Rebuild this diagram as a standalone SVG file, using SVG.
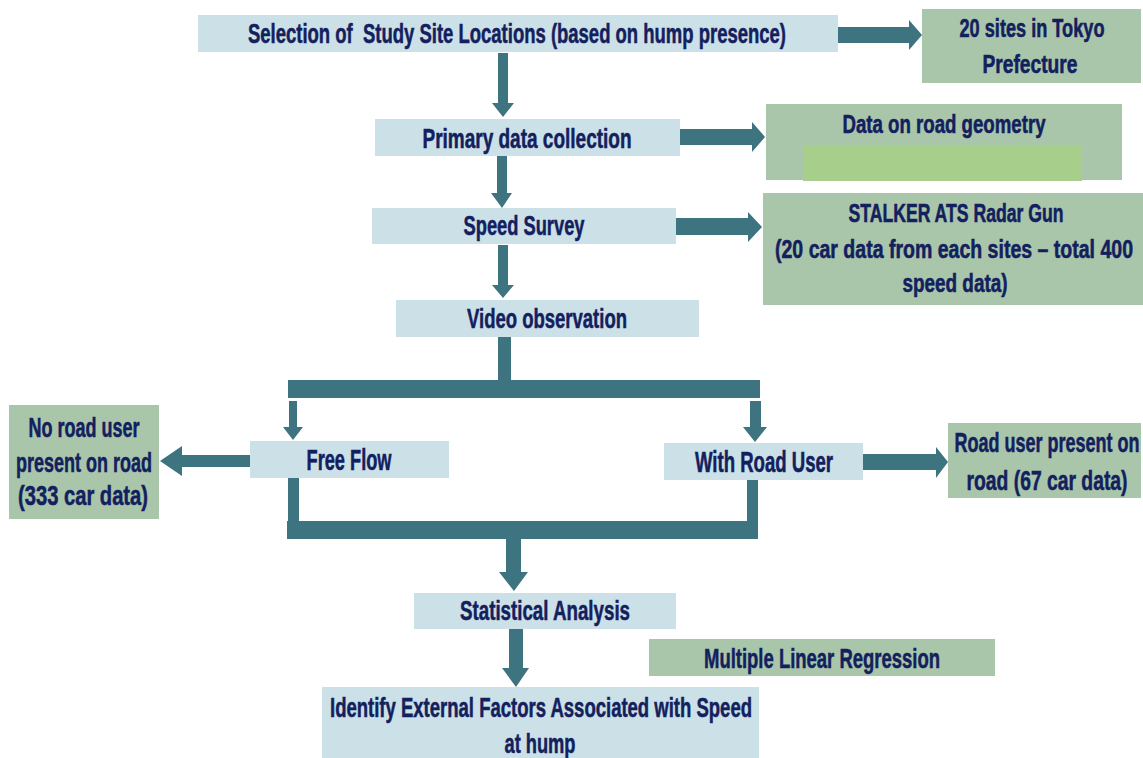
<svg xmlns="http://www.w3.org/2000/svg" width="1143" height="758" viewBox="0 0 1143 758">
<style>
.b{fill:#cce0e7}
.g{fill:#a9c6aa}
.gi{fill:#a7cf8b}
.t{font-family:"Liberation Sans Narrow","Liberation Sans",Arial,sans-serif;font-weight:bold;font-size:18px;fill:#13205e;stroke:#13205e;stroke-width:0.35;text-anchor:middle}
.s{font-size:16px}
.c{fill:#3e7380}
</style>
<rect width="1143" height="758" fill="#ffffff"/>
<g id="connectors">
<polygon class="c" points="498,53 508,53 508,103 514,103 503,117 492,103 498,103"/>
<polygon class="c" points="497,156 507,156 507,193 512,193 502,208 491,193 497,193"/>
<polygon class="c" points="498,245 508,245 508,285 514,285 503,298 492,285 498,285"/>
<rect class="c" x="498" y="337" width="13" height="45"/>
<rect class="c" x="288" y="380" width="472" height="18"/>
<polygon class="c" points="289,401 297,401 297,427 303,427 293,440 283,427 289,427"/>
<polygon class="c" points="750,401 761,401 761,427 767,427 755,442 743,427 750,427"/>
<rect class="c" x="288" y="478" width="11" height="45"/>
<rect class="c" x="747" y="480" width="11" height="43"/>
<rect class="c" x="287" y="521" width="471" height="18"/>
<polygon class="c" points="506,539 521,539 521,572 528,572 514,591 499,572 506,572"/>
<polygon class="c" points="509,629 523,629 523,668 529,668 516,687 502,668 509,668"/>
<polygon class="c" points="838,27 909,27 909,20 922,35 909,50 909,43 838,43"/>
<polygon class="c" points="680,129 752,129 752,122 765,137 752,152 752,145 680,145"/>
<polygon class="c" points="676,218 748,218 748,212 762,227 748,242 748,235 676,235"/>
<polygon class="c" points="863,454 936,454 936,447 948,462 936,478 936,470 863,470"/>
<polygon class="c" points="250,455 182,455 182,446 160,461 182,476 182,467 250,467"/>
</g>
<g id="n-selection">
<rect class="b" x="198" y="15" width="640" height="37"/>
<text class="t" transform="translate(517,43) scale(1,1.55)" textLength="538" lengthAdjust="spacingAndGlyphs" xml:space="preserve">Selection of  Study Site Locations (based on hump presence)</text>
</g>
<g id="n-sites">
<rect class="g" x="922" y="9" width="219" height="74"/>
<text class="t s" transform="translate(1032,37) scale(1,1.6)" textLength="145" lengthAdjust="spacingAndGlyphs">20 sites in Tokyo</text>
<text class="t s" transform="translate(1030,73) scale(1,1.6)" textLength="95" lengthAdjust="spacingAndGlyphs">Prefecture</text>
</g>
<g id="n-primary">
<rect class="b" x="375" y="119" width="305" height="37"/>
<text class="t" transform="translate(527,148) scale(1,1.55)" textLength="209" lengthAdjust="spacingAndGlyphs">Primary data collection</text>
</g>
<g id="n-geometry">
<rect class="g" x="766" y="104" width="356" height="76"/>
<rect class="gi" x="803" y="146" width="279" height="35"/>
<text class="t s" transform="translate(944,133) scale(1,1.6)" textLength="203" lengthAdjust="spacingAndGlyphs">Data on road geometry</text>
</g>
<g id="n-speed">
<rect class="b" x="372" y="208" width="304" height="36"/>
<text class="t" transform="translate(524,235) scale(1,1.55)" textLength="121" lengthAdjust="spacingAndGlyphs">Speed Survey</text>
</g>
<g id="n-radar">
<rect class="g" x="763" y="193" width="380" height="112"/>
<text class="t s" transform="translate(956,222) scale(1,1.6)" textLength="215" lengthAdjust="spacingAndGlyphs">STALKER ATS Radar Gun</text>
<text class="t s" transform="translate(954,258) scale(1,1.6)" textLength="358" lengthAdjust="spacingAndGlyphs">(20 car data from each sites – total 400</text>
<text class="t s" transform="translate(955,292) scale(1,1.6)" textLength="105" lengthAdjust="spacingAndGlyphs">speed data)</text>
</g>
<g id="n-video">
<rect class="b" x="396" y="300" width="303" height="37"/>
<text class="t" transform="translate(547,328) scale(1,1.55)" textLength="160" lengthAdjust="spacingAndGlyphs">Video observation</text>
</g>
<g id="n-free">
<rect class="b" x="250" y="441" width="199" height="37"/>
<text class="t" transform="translate(349,470) scale(1,1.6)" textLength="85" lengthAdjust="spacingAndGlyphs">Free Flow</text>
</g>
<g id="n-noroad">
<rect class="g" x="9" y="405" width="150" height="114"/>
<text class="t" transform="translate(84,437) scale(1,1.55)" textLength="111" lengthAdjust="spacingAndGlyphs">No road user</text>
<text class="t" transform="translate(84,472) scale(1,1.55)" textLength="136" lengthAdjust="spacingAndGlyphs">present on road</text>
<text class="t" transform="translate(83,505) scale(1,1.55)" textLength="130" lengthAdjust="spacingAndGlyphs">(333 car data)</text>
</g>
<g id="n-withroad">
<rect class="b" x="664" y="443" width="199" height="37"/>
<text class="t" transform="translate(764,472) scale(1,1.6)" textLength="138" lengthAdjust="spacingAndGlyphs">With Road User</text>
</g>
<g id="n-roaduser">
<rect class="g" x="948" y="423" width="193" height="75"/>
<text class="t" transform="translate(1047,452) scale(1,1.55)" textLength="185" lengthAdjust="spacingAndGlyphs">Road user present on</text>
<text class="t" transform="translate(1047,490) scale(1,1.55)" textLength="161" lengthAdjust="spacingAndGlyphs">road (67 car data)</text>
</g>
<g id="n-stat">
<rect class="b" x="414" y="593" width="262" height="36"/>
<text class="t" transform="translate(545,620) scale(1,1.5)" textLength="170" lengthAdjust="spacingAndGlyphs">Statistical Analysis</text>
</g>
<g id="n-mlr">
<rect class="g" x="649" y="639" width="346" height="37"/>
<text class="t" transform="translate(822,668) scale(1,1.55)" textLength="236" lengthAdjust="spacingAndGlyphs">Multiple Linear Regression</text>
</g>
<g id="n-identify">
<rect class="b" x="322" y="687" width="437" height="71"/>
<text class="t" transform="translate(541,717) scale(1,1.55)" textLength="422" lengthAdjust="spacingAndGlyphs">Identify External Factors Associated with Speed</text>
<text class="t" transform="translate(540,753) scale(1,1.55)" textLength="71" lengthAdjust="spacingAndGlyphs">at hump</text>
</g>
</svg>
